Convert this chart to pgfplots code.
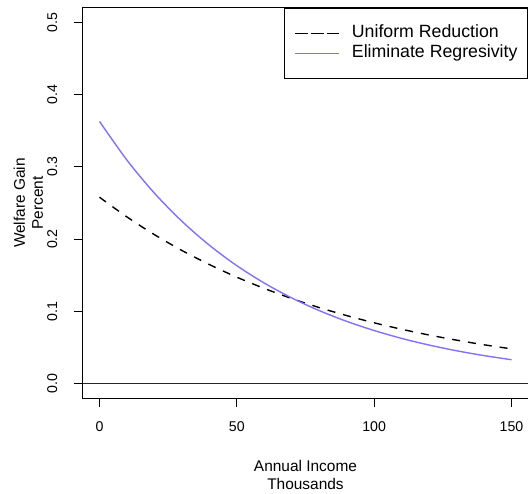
\documentclass[border=0pt]{standalone}
\usepackage{pgfplots}
\usepackage{pgfplotstable}
\pgfplotsset{compat=1.18}
\usepackage{fontspec}
\setmainfont{Liberation Sans}
\definecolor{lsblue}{HTML}{8470FF}

% welfare gain (percent) by annual income (thousands)
\pgfplotstableread{
x    uniform eliminate
0    0.2580  0.3630
10   0.2307  0.3093
20   0.2062  0.2636
30   0.1843  0.2247
40   0.1648  0.1915
50   0.1473  0.1632
60   0.1317  0.1391
70   0.1177  0.1185
80   0.1052  0.1010
90   0.0941  0.0861
100  0.0841  0.0734
110  0.0752  0.0625
120  0.0672  0.0533
130  0.0601  0.0454
140  0.0537  0.0387
150  0.0480  0.0330
}\gains

\begin{document}
\begin{tikzpicture}
\useasboundingbox (-83bp,-96bp) rectangle (445bp,398bp);
\begin{axis}[
  at={(0,0)}, anchor=south west,
  scale only axis, width=445bp, height=390bp,
  xmin=-6, xmax=156, ymin=-0.02, ymax=0.52,
  axis line style={black, line width=1bp},
  xtick={0,50,100,150},
  ytick={0,0.1,0.2,0.3,0.4,0.5},
  xtick pos=left, ytick pos=left,
  tick align=outside, major tick length=9bp,
  tick style={black, line width=1bp},
  /pgf/number format/assume math mode=true,
  yticklabel={\pgfmathprintnumber[fixed, fixed zerofill, precision=1]{\tick}},
  ticklabel style={font=\fontsize{14.2}{16}\selectfont},
  xticklabel style={anchor=north, inner sep=0pt},
  xticklabel shift=14bp,
  yticklabel style={rotate=90, anchor=south, inner sep=0pt},
  yticklabel shift=16.5bp,
  xlabel={Annual Income\\Thousands},
  xlabel style={at={(axis description cs:0.5,0)}, anchor=north, align=center,
    inner sep=0pt, yshift=-62bp, font=\fontsize{15.5}{18}\selectfont},
  ylabel={Welfare Gain\\Percent},
  ylabel style={at={(axis description cs:-0.1562,0.5)}, anchor=north, align=center,
    inner sep=0pt, font=\fontsize{15.5}{18}\selectfont},
  legend style={at={(1,1)}, anchor=north east, draw=black, line width=1bp,
    font=\fontsize{17.8}{20}\selectfont, inner xsep=10bp, inner ysep=16.5bp,
    nodes={inner sep=0pt, text height=12.9bp, text depth=3.7bp},
    row sep=3.4bp, column sep=12bp},
  legend cell align=left,
  legend image code/.code={%
    \path (-5bp,0bp) -- (39bp,0bp);
    \draw[#1, line width=1.5bp] (0bp,0bp) -- (39bp,0bp);},
]
\addplot[black, line width=1.4bp, dash pattern=on 8bp off 8bp, smooth]
  table[x=x, y=uniform] {\gains};
\addlegendentry{Uniform Reduction}
\addplot[lsblue, line width=1.4bp, smooth]
  table[x=x, y=eliminate] {\gains};
\addlegendentry{Eliminate Regresivity}
\addplot[black!85, line width=0.9bp, forget plot] coordinates {(-6,0) (156,0)};
\end{axis}
\end{tikzpicture}
\end{document}
